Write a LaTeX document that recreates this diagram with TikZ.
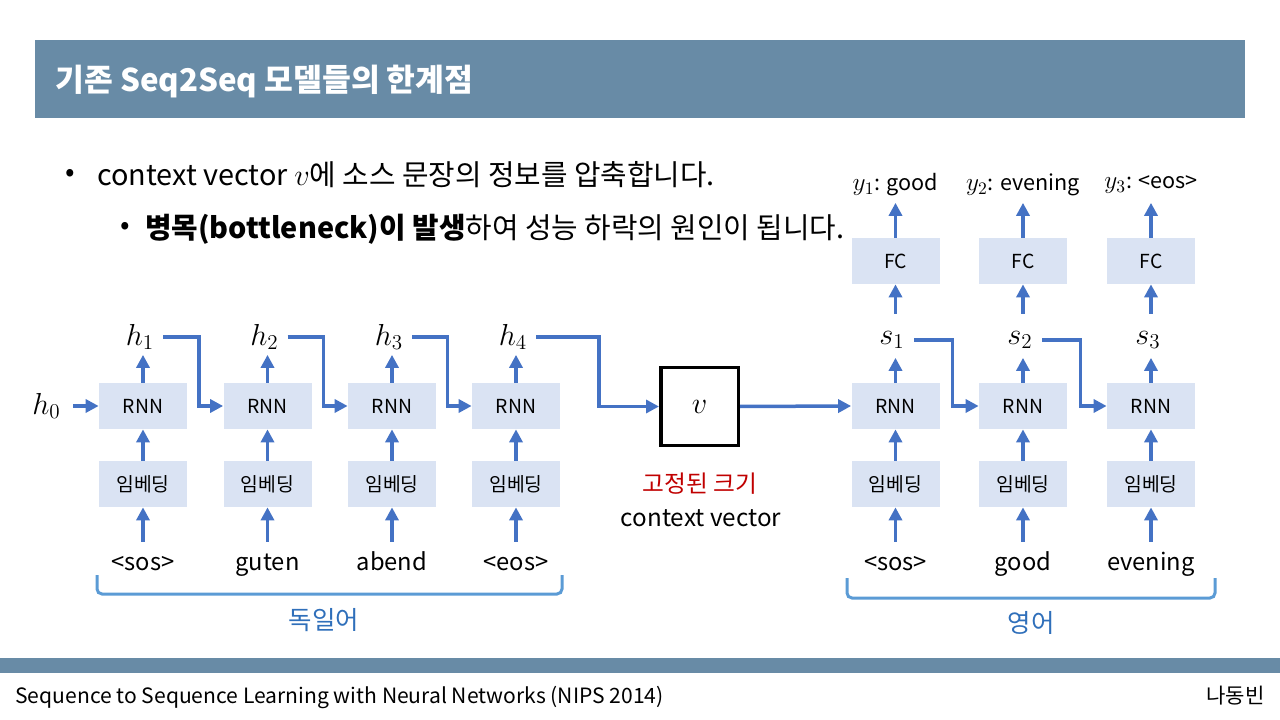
\documentclass[tikz,border=0pt]{standalone}
\usepackage{fontspec}
\setmainfont{Noto Sans CJK KR}
\usetikzlibrary{arrows.meta}
\definecolor{barblue}{RGB}{104,139,166}
\definecolor{cellfill}{RGB}{218,227,243}
\definecolor{flowblue}{RGB}{68,114,196}
\definecolor{bracketblue}{RGB}{91,155,213}
\definecolor{langblue}{RGB}{47,111,186}
\definecolor{fixred}{RGB}{192,0,0}

\begin{document}
\begin{tikzpicture}[x=.2mm,y=-.2mm,
  cell/.style={fill=cellfill,minimum width=17.6mm,minimum height=9.2mm,inner sep=0pt,font=\fontsize{11}{13}\selectfont},
  word/.style={inner sep=0pt,text height=3mm,text depth=.9mm,font=\fontsize{13.5}{16}\selectfont},
  state/.style={inner sep=0pt,minimum height=7mm,font=\fontsize{16.5}{18}\selectfont},
  outlab/.style={inner sep=0pt,minimum height=7mm,font=\fontsize{12.3}{14}\selectfont},
  flow/.style={draw=flowblue,line width=.7mm,-{Triangle[length=2.6mm,width=2.6mm]}},
  bracket/.style={draw=bracketblue,line width=.6mm,rounded corners=1mm},
  lang/.style={text=langblue,font=\fontsize{14.5}{17}\selectfont}]
\useasboundingbox (0,0) rectangle (1280,720);
\fill[barblue] (35,40) rectangle (1245,118);
\node[anchor=base west,inner sep=0pt,text=white,font=\bfseries\fontsize{17.8}{20}\selectfont] (title) at (55,92) {기존 Seq2Seq 모델들의 한계점};
\node[font=\fontsize{16}{19}\selectfont] (bul1) at (70,175) {•};
\node[anchor=base west,inner sep=0pt,font=\fontsize{16.4}{19}\selectfont] (line1) at (97,186) {context vector {\fontsize{17.5}{19}\selectfont$v$}에 소스 문장의 정보를 압축합니다.};
\node[font=\fontsize{16}{19}\selectfont] (bul2) at (125,228) {•};
\node[anchor=base west,inner sep=0pt,font=\fontsize{16.4}{19}\selectfont] (line2) at (145,239) {{\bfseries 병목(bottleneck)이 발생}하여 성능 하락의 원인이 됩니다.};
\node[cell] (er1) at (143,406) {RNN};
\node[cell] (er2) at (267.5,406) {RNN};
\node[cell] (er3) at (392,406) {RNN};
\node[cell] (er4) at (516,406) {RNN};
\node[cell] (ee1) at (143,484) {임베딩};
\node[cell] (ee2) at (267.5,484) {임베딩};
\node[cell] (ee3) at (392,484) {임베딩};
\node[cell] (ee4) at (516,484) {임베딩};
\node[word,anchor=base] (ew1) at (143,570) {<sos>};
\node[word,anchor=base] (ew2) at (267.5,570) {guten};
\node[word,anchor=base] (ew3) at (392,570) {abend};
\node[word,anchor=base] (ew4) at (516,570) {<eos>};
\node[state] (h1) at (140,337) {$h_1$};
\node[state] (h2) at (264.5,337) {$h_2$};
\node[state] (h3) at (389,337) {$h_3$};
\node[state] (h4) at (513,337) {$h_4$};
\node[state,anchor=east,inner xsep=2.4mm] (h0) at (73,406) {$h_0$};
\node[draw,line width=.7mm,minimum size=15.5mm,inner sep=0pt,font=\fontsize{19}{21}\selectfont] (v) at (699.5,406.5) {$v$};
\node[anchor=base,text=fixred,font=\fontsize{13.5}{16}\selectfont] (fixed) at (700,492) {고정된 크기};
\node[anchor=base,font=\fontsize{13.8}{16}\selectfont] (ctx) at (701,526) {context vector};
\node[cell] (dr1) at (895.5,406) {RNN};
\node[cell] (dr2) at (1023,406) {RNN};
\node[cell] (dr3) at (1151,406) {RNN};
\node[cell] (de1) at (895.5,484) {임베딩};
\node[cell] (de2) at (1023,484) {임베딩};
\node[cell] (de3) at (1151,484) {임베딩};
\node[word,anchor=base] (dw1) at (895.5,570) {<sos>};
\node[word,anchor=base] (dw2) at (1023,570) {good};
\node[word,anchor=base] (dw3) at (1151,570) {evening};
\node[state] (s1) at (892,340) {$s_1$};
\node[state] (s2) at (1020,340) {$s_2$};
\node[state] (s3) at (1148,340) {$s_3$};
\node[cell] (fc1) at (895.5,261) {FC};
\node[cell] (fc2) at (1023,261) {FC};
\node[cell] (fc3) at (1151,261) {FC};
\node[outlab] (y1) at (895.5,185) {{\fontsize{14}{16}\selectfont$y_1$}: good};
\node[outlab] (y2) at (1023,185) {{\fontsize{14}{16}\selectfont$y_2$}: evening};
\node[outlab] (y3) at (1151,185) {{\fontsize{14}{16}\selectfont$y_3$}: <eos>};
\draw[flow] (h0.east) -- (er1.west);
\draw[flow,shorten <=2.6mm] (ew1.north) -- (ee1.south);
\draw[flow,shorten <=2.6mm] (ew2.north) -- (ee2.south);
\draw[flow,shorten <=2.6mm] (ew3.north) -- (ee3.south);
\draw[flow,shorten <=2.6mm] (ew4.north) -- (ee4.south);
\draw[flow] (ee1.north) -- (er1.south);
\draw[flow] (ee2.north) -- (er2.south);
\draw[flow] (ee3.north) -- (er3.south);
\draw[flow] (ee4.north) -- (er4.south);
\draw[flow] (er1.north) -- (er1.north |- h1.south);
\draw[flow] (er2.north) -- (er2.north |- h2.south);
\draw[flow] (er3.north) -- (er3.north |- h3.south);
\draw[flow] (er4.north) -- (er4.north |- h4.south);
\draw[flow] ([xshift=4.6mm]h1.center) -| ([xshift=-4.8mm]er2.west) -- (er2.west);
\draw[flow] ([xshift=4.6mm]h2.center) -| ([xshift=-4.8mm]er3.west) -- (er3.west);
\draw[flow] ([xshift=4.6mm]h3.center) -| ([xshift=-4.8mm]er4.west) -- (er4.west);
\draw[flow] ([xshift=4.6mm]h4.center) -| ([xshift=-12mm]v.west) -- (v.west);
\draw[flow] (v.east) -- (dr1.west);
\draw[flow,shorten <=2.6mm] (dw1.north) -- (de1.south);
\draw[flow,shorten <=2.6mm] (dw2.north) -- (de2.south);
\draw[flow,shorten <=2.6mm] (dw3.north) -- (de3.south);
\draw[flow] (de1.north) -- (dr1.south);
\draw[flow] (de2.north) -- (dr2.south);
\draw[flow] (de3.north) -- (dr3.south);
\draw[flow] (dr1.north) -- (dr1.north |- s1.south);
\draw[flow] (dr2.north) -- (dr2.north |- s2.south);
\draw[flow] (dr3.north) -- (dr3.north |- s3.south);
\draw[flow] ([xshift=4.4mm]s1.center) -| ([xshift=-5.2mm]dr2.west) -- (dr2.west);
\draw[flow] ([xshift=4.4mm]s2.center) -| ([xshift=-5.2mm]dr3.west) -- (dr3.west);
\draw[flow,shorten <=1.7mm] (dr1.north |- s1.north) -- (fc1.south);
\draw[flow,shorten <=1.7mm] (dr2.north |- s2.north) -- (fc2.south);
\draw[flow,shorten <=1.7mm] (dr3.north |- s3.north) -- (fc3.south);
\draw[flow] (fc1.north) -- (fc1.north |- y1.south);
\draw[flow] (fc2.north) -- (fc2.north |- y2.south);
\draw[flow] (fc3.north) -- (fc3.north |- y3.south);
\draw[bracket] (97,575) -- (97,594) -- (562,594) -- (562,575);
\node[lang] (german) at (324,620) {독일어};
\draw[bracket] (847,578) -- (847,598) -- (1215,598) -- (1215,578);
\node[lang] (english) at (1031,623) {영어};
\fill[barblue] (0,658) rectangle (1280,673);
\node[anchor=base west,inner sep=0pt,font=\fontsize{12}{14}\selectfont] (paper) at (15,703) {Sequence to Sequence Learning with Neural Networks (NIPS 2014)};
\node[anchor=base east,inner sep=0pt,font=\fontsize{12}{14}\selectfont] (author) at (1265,703) {나동빈};
\end{tikzpicture}
\end{document}
